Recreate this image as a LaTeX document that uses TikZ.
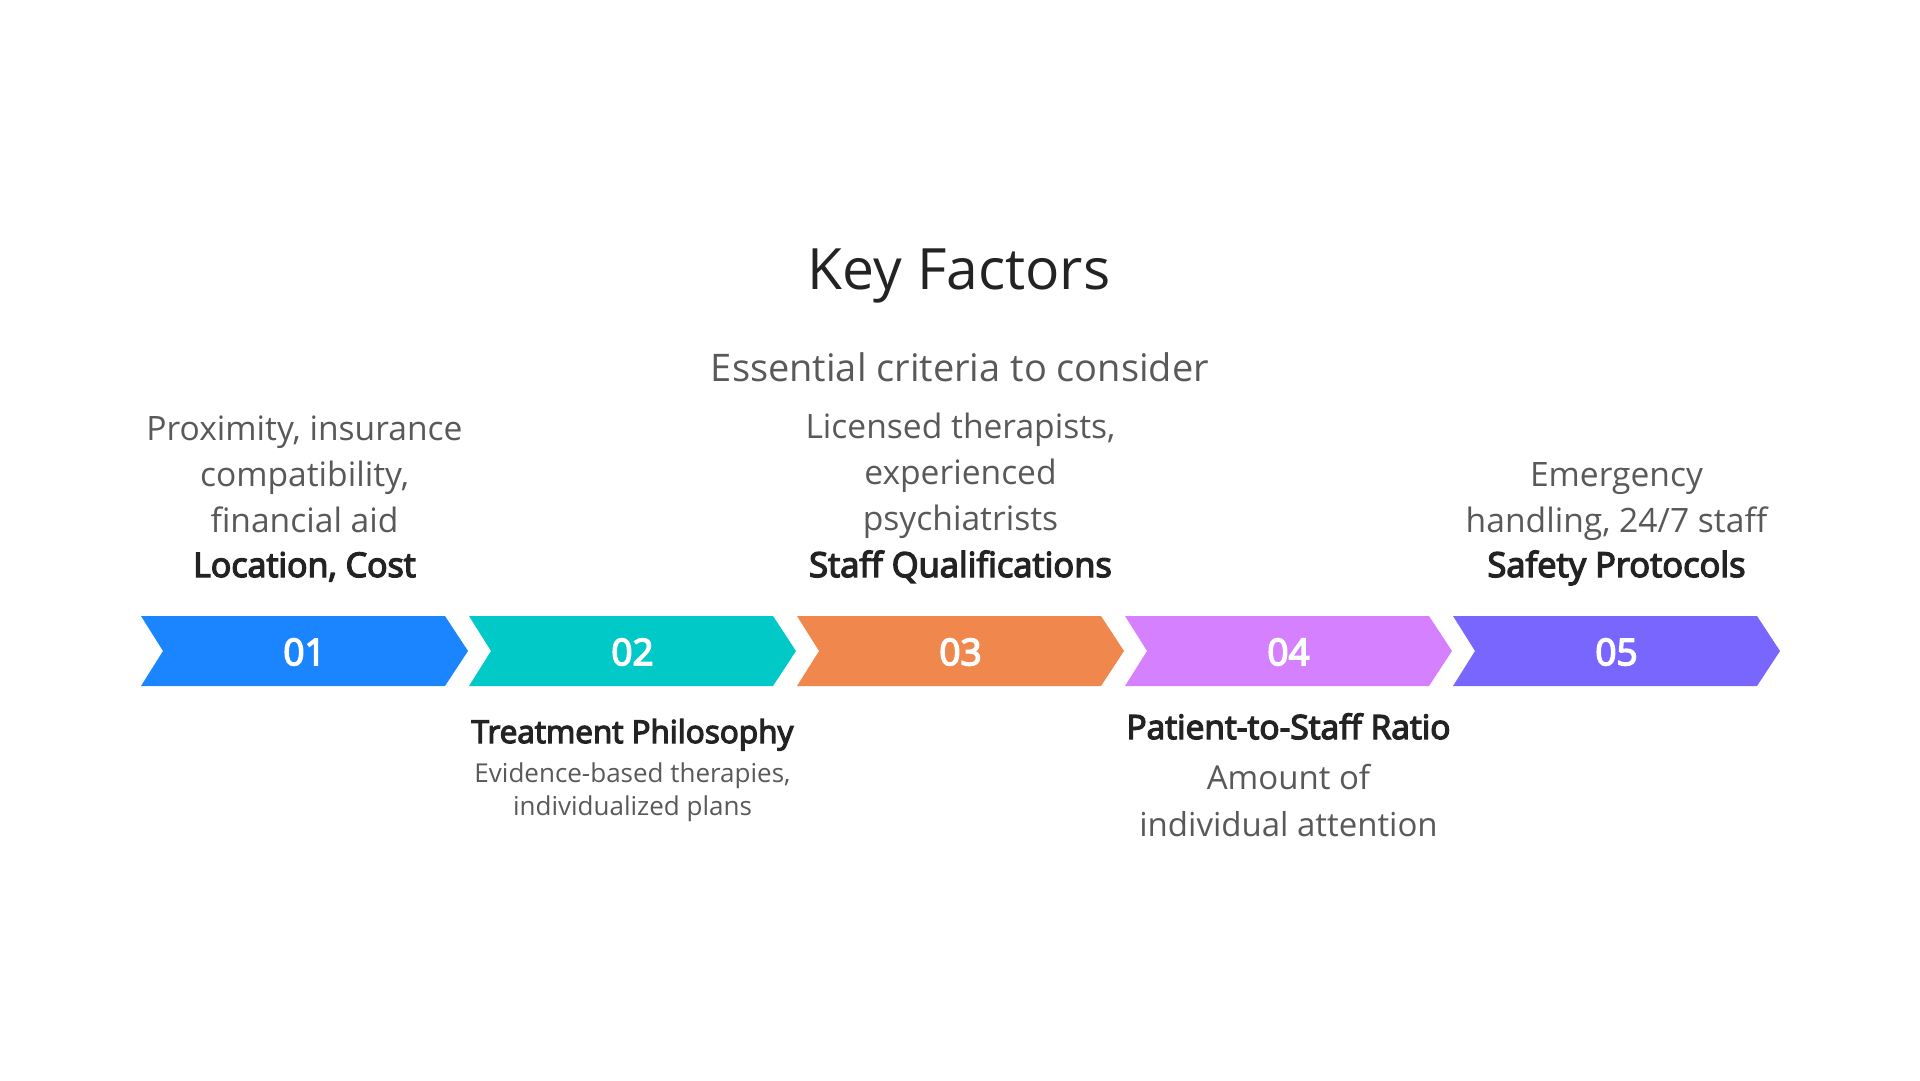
\documentclass[tikz,border=0pt]{standalone}
\usepackage{fontspec}
\setmainfont{Open Sans}[AutoFakeBold=4]
\usetikzlibrary{positioning}
\definecolor{stepblue}{HTML}{1A85FF}
\definecolor{stepteal}{HTML}{00C9C8}
\definecolor{steporange}{HTML}{F0884E}
\definecolor{steppink}{HTML}{D580FF}
\definecolor{stepviolet}{HTML}{7966FF}
\definecolor{inkdark}{HTML}{232323}
\definecolor{inkgray}{HTML}{595959}
\tikzset{
  heading/.style={font=\fontsize{57}{62}\selectfont, text=inkdark, anchor=base, inner sep=0pt},
  subheading/.style={font=\fontsize{38}{44}\selectfont, text=inkgray, anchor=base, inner sep=0pt},
  numlabel/.style={font=\bfseries\fontsize{37}{40}\selectfont, text=white, inner sep=0pt},
  factorname/.style={font=\bfseries\fontsize{#1}{36}\selectfont, text=inkdark, anchor=base, inner sep=0pt},
  factorname/.default=34,
  factortext/.style args={#1/#2}{font=\fontsize{#1}{#2}\selectfont, text=inkgray, anchor=base, inner sep=0pt, align=center}
}
\begin{document}
\begin{tikzpicture}[x=1pt,y=-1pt]
  \useasboundingbox (0,0) rectangle (1920,1080);
  % title
  \node[heading] (title) at (959,289) {Key Factors};
  \node[subheading] (subtitle) at (960,381) {Essential criteria to consider};
  % chevrons
  \foreach \i/\c in {0/stepblue,1/stepteal,2/steporange,3/steppink,4/stepviolet}
    \fill[\c] (141+328*\i,616) -- ++(304,0) -- ++(23,35) -- ++(-23,35) -- ++(-304,0) -- ++(22,-35) -- cycle;
  \foreach \i/\n in {0/01,1/02,2/03,3/04,4/05}
    \node[numlabel] (num\n) at (304.5+328*\i,652) {\n};
  % texts above (base = last line)
  \node[factorname] (name1) at (304.5,577) {Location, Cost};
  \node[factortext={33.6/46}] (text1) at (304.5,532) {Proximity, insurance\\compatibility,\\financial aid};
  \node[factorname=34.5] (name3) at (960.5,577) {Staff Qualifications};
  \node[factortext={33.6/46}] (text3) at (960.5,530) {Licensed therapists,\\experienced\\psychiatrists};
  \node[factorname=34.5] (name5) at (1616.5,577) {Safety Protocols};
  \node[factortext={33.6/46}] (text5) at (1616.5,532) {Emergency\\handling, 24/7 staff};
  % texts below
  \node[factorname=31.5] (name2) at (632.5,743) {Treatment Philosophy};
  \node[factortext={26/33}] (text2) at (632.5,815) {Evidence-based therapies,\\individualized plans};
  \node[factorname=33.5] (name4) at (1288.5,739) {Patient-to-Staff Ratio};
  \node[factortext={33/47}] (text4) at (1288.5,836) {Amount of\\individual attention};
\end{tikzpicture}
\end{document}
